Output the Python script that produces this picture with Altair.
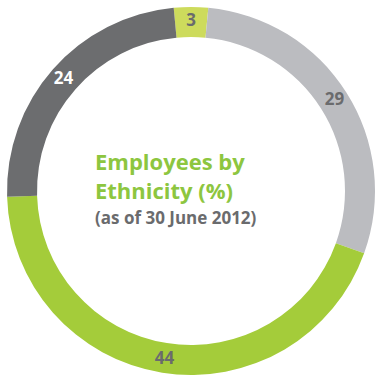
import altair as alt
import pandas as pd
import math

groups = ["A", "B", "C", "D"]
values = [3, 29, 44, 24]
labels = ["3", "29", "44", "24"]
colors = ["#CDDB5C", "#BBBCC0", "#A4CC3A", "#6C6D6F"]
label_colors = ["#6A6B6D", "#6A6B6D", "#6A6B6D", "#FFFFFF"]

title_text = "Employees by\nEthnicity (%)"
subtitle = "(as of 30 June 2012)"

df = pd.DataFrame({"group": groups, "value": values, "label": labels, "order": range(len(values))})

start = -math.radians(5.4)
theta_scale = alt.Scale(range=[start, start + 2 * math.pi])
cx, cy = 191, 191

base = alt.Chart(df).encode(
    theta=alt.Theta("value:Q", stack=True, scale=theta_scale),
    order=alt.Order("order:Q"),
    x=alt.value(cx),
    y=alt.value(cy),
)

arcs = base.mark_arc(outerRadius=184, innerRadius=154, stroke=None).encode(
    color=alt.Color("group:N", scale=alt.Scale(domain=groups, range=colors), legend=None)
)

lbl = base.mark_text(radius=170, font="Open Sans", fontWeight="bold", fontSize=17).encode(
    text="label:N",
    color=alt.Color("group:N", scale=alt.Scale(domain=groups, range=label_colors), legend=None),
)

tdf = pd.DataFrame({"t": [title_text]})
title = alt.Chart(tdf).mark_text(
    font="Open Sans", fontWeight="bold", fontSize=22, color="#8DC63F", align="left",
    baseline="alphabetic", lineBreak="\n", lineHeight=29,
).encode(text="t:N", x=alt.value(95), y=alt.value(170))

sdf = pd.DataFrame({"t": [subtitle]})
sub = alt.Chart(sdf).mark_text(
    font="Open Sans", fontWeight="bold", fontSize=17, color="#6A6B6D", align="left", baseline="alphabetic"
).encode(text="t:N", x=alt.value(95), y=alt.value(224))

chart = alt.layer(arcs, lbl, title, sub).resolve_scale(color="independent").properties(
    width=375, height=376, autosize=alt.AutoSizeParams(type="none"), padding=0, background="white"
).configure_view(stroke=None)

chart.save("out.html", embed_options={"renderer": "svg", "actions": False})
